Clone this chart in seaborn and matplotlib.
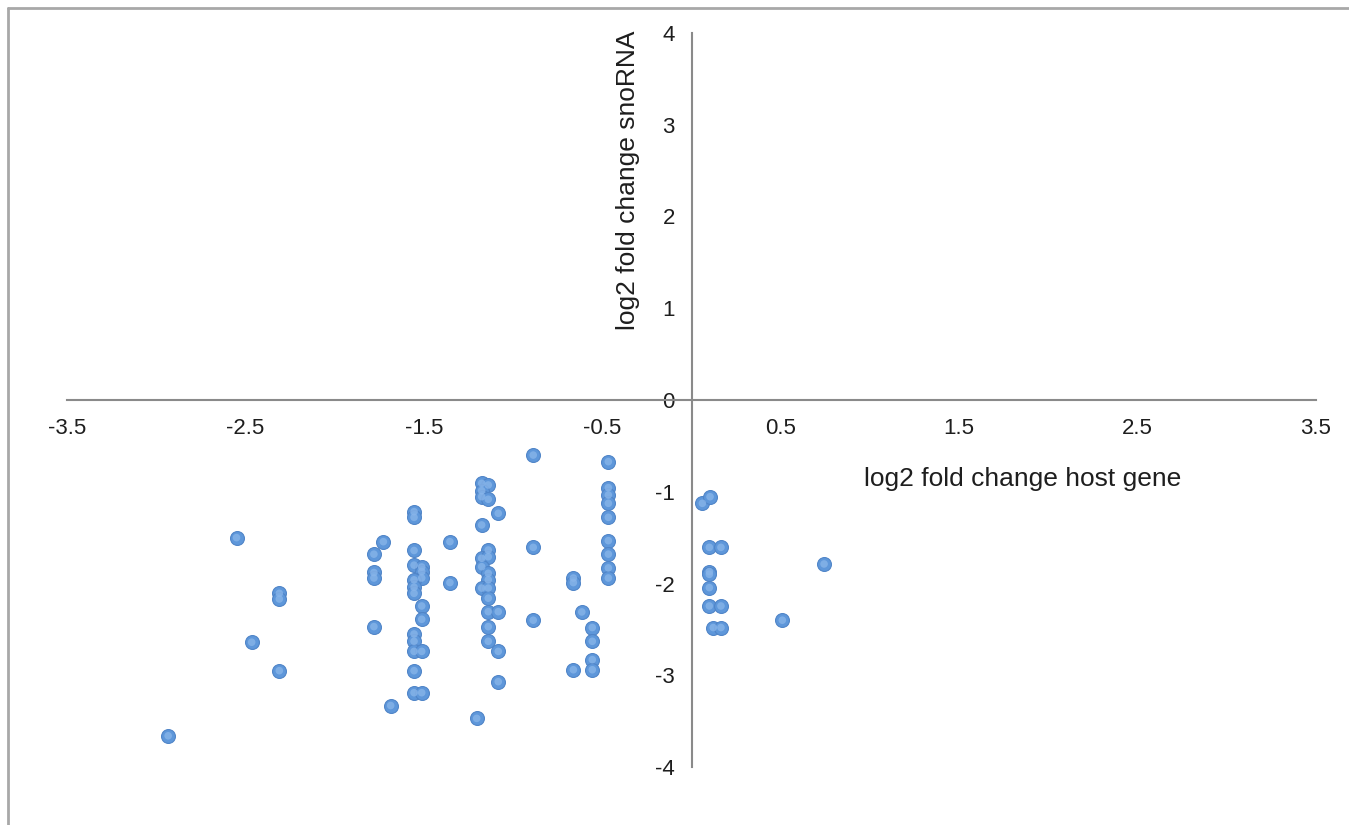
import numpy as np
import pandas as pd
import matplotlib
matplotlib.use("Agg")
import matplotlib.pyplot as plt
from matplotlib.lines import Line2D
import seaborn as sns

# log2 fold changes: host gene (x) vs. snoRNA (y)
host_gene = [
    -2.55, -2.31, -2.31, -2.465, -2.31, -2.933,
    -1.727, -1.78, -1.78, -1.78, -1.78,
    -1.555, -1.555, -1.555, -1.555, -1.512, -1.512, -1.512,
    -1.555, -1.555, -1.555, -1.512, -1.512,
    -1.555, -1.555, -1.555, -1.512, -1.555, -1.555, -1.512, -1.686,
    -1.354, -1.354,
    -0.887, -0.887, -0.887,
    -1.176, -1.139, -1.176, -1.176, -1.139, -1.083, -1.176,
    -1.139, -1.176, -1.139, -1.176, -1.139, -1.139, -1.176, -1.139, -1.139,
    -1.139, -1.083, -1.139, -1.139, -1.083, -1.083, -1.204,
    -0.466, -0.466, -0.466, -0.466, -0.466, -0.466, -0.466, -0.466, -0.466,
    -0.662, -0.662, -0.615, -0.556, -0.556, -0.556, -0.556, -0.662,
    0.061, 0.104, 0.10, 0.165, 0.10, 0.10, 0.10, 0.10, 0.165, 0.122, 0.165,
    0.743, 0.509,
]
snorna = [
    -1.50, -2.107, -2.169, -2.64, -2.95, -3.66,
    -1.544, -1.68, -1.88, -1.94, -2.47,
    -1.217, -1.279, -1.64, -1.80, -1.82, -1.87, -1.94,
    -1.96, -2.04, -2.107, -2.245, -2.39,
    -2.55, -2.63, -2.74, -2.74, -2.95, -3.19, -3.19, -3.33,
    -1.544, -1.99,
    -0.60, -1.606, -2.40,
    -0.908, -0.926, -0.988, -1.054, -1.082, -1.235, -1.362,
    -1.635, -1.725, -1.708, -1.817, -1.889, -1.96, -2.05, -2.05, -2.16,
    -2.307, -2.307, -2.47, -2.63, -2.74, -3.07, -3.47,
    -0.672, -0.955, -1.035, -1.126, -1.279, -1.533, -1.68, -1.83, -1.94,
    -1.94, -1.99, -2.31, -2.48, -2.63, -2.83, -2.94, -2.94,
    -1.126, -1.054, -1.606, -1.606, -1.87, -1.90, -2.045, -2.245, -2.245, -2.48, -2.48,
    -1.787, -2.40,
]

x_ticks = [-3.5, -2.5, -1.5, -0.5, 0.5, 1.5, 2.5, 3.5]
y_ticks = [-4, -3, -2, -1, 0, 1, 2, 3, 4]

df = pd.DataFrame({"host": host_gene, "sno": snorna})

sns.set_theme(style="white")
plt.rcParams["font.family"] = ["Liberation Sans", "DejaVu Sans"]

W, H = 1349, 825
fig = plt.figure(figsize=(W / 100, H / 100), dpi=100)
ax = fig.add_axes([67 / W, (H - 767) / H, (1316 - 67) / W, (767 - 33) / H])

axis_grey = "#8a8a8a"

sns.scatterplot(data=df, x="host", y="sno", ax=ax, s=100,
                color="#5e97da", edgecolor="#5085c8", linewidth=0.8,
                zorder=3, legend=False)
# soft highlight on each marker
sns.scatterplot(data=df, x="host", y="sno", ax=ax, s=30,
                color="#8ab6ea", edgecolor="none", alpha=0.75,
                zorder=4, legend=False)

ax.set_xlim(-3.5, 3.5)
ax.set_ylim(-4, 4)
ax.set_xticks(x_ticks)
ax.set_xticklabels([f"{v:g}" for v in x_ticks])
ax.set_yticks(y_ticks)
ax.set_yticklabels([f"{v:d}" for v in y_ticks])

for side in ("top", "right"):
    ax.spines[side].set_visible(False)
ax.spines["left"].set_position(("data", 0))
ax.spines["bottom"].set_position(("data", 0))
for side in ("left", "bottom"):
    ax.spines[side].set_color(axis_grey)
    ax.spines[side].set_linewidth(1.5)

ax.tick_params(axis="both", which="major", direction="out", length=5,
               width=1.2, color=axis_grey, labelsize=16, labelcolor="#1e1e1e")
ax.tick_params(axis="y", pad=7)
ax.tick_params(axis="x", pad=8)
ax.set_xlabel("")
ax.set_ylabel("")

fig.text(628 / W, 1 - 180 / H, "log2 fold change snoRNA", rotation=90,
         ha="center", va="center", fontsize=19, color="#1e1e1e")
fig.text(1023 / W, 1 - 479 / H, "log2 fold change host gene",
         ha="center", va="center", fontsize=19, color="#1e1e1e")

# outer frame (top and left edges)
fig.add_artist(Line2D([8 / W, 1.0], [1 - 8 / H, 1 - 8 / H],
                      transform=fig.transFigure, color="#a8a8a8", lw=2))
fig.add_artist(Line2D([8 / W, 8 / W], [0.0, 1 - 8 / H],
                      transform=fig.transFigure, color="#a8a8a8", lw=2))

fig.savefig("out.png", dpi=100, facecolor="white")
